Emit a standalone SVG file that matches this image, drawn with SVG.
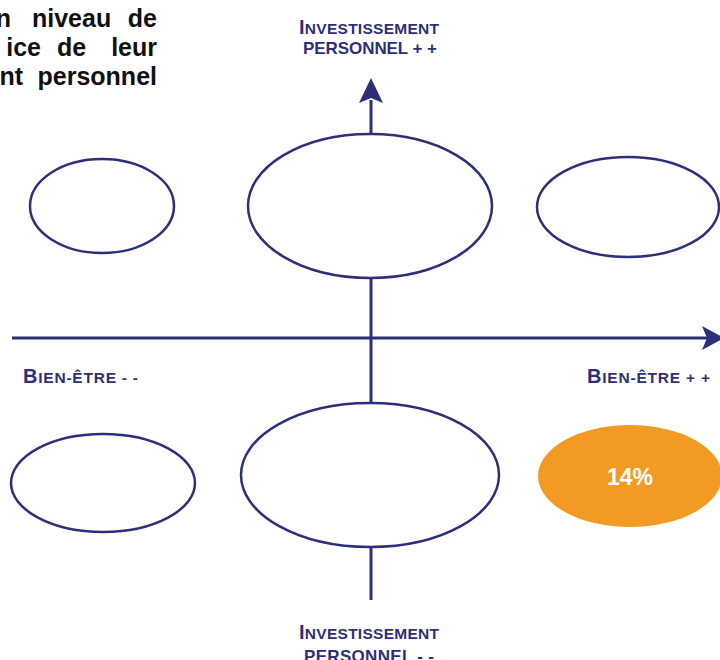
<svg xmlns="http://www.w3.org/2000/svg" width="720" height="660" viewBox="0 0 720 660">
<style>
.ax{stroke:#2d2f78;stroke-width:3;fill:none}
.head{fill:#2d2f78}
.node{fill:#ffffff;stroke:#2d2f78;stroke-width:2.5}
.lbl{font-family:"Liberation Sans",Arial,sans-serif;font-weight:bold;fill:#2d2f78;font-size:15.5px}
.lbl2{font-size:17px}
.big{font-size:20px}
.body{font-family:"Liberation Sans",Arial,sans-serif;font-weight:bold;fill:#111111;font-size:25px}
.pct{font-family:"Liberation Sans",Arial,sans-serif;font-weight:bold;fill:#ffffff;font-size:23px}
</style>
<rect width="720" height="660" fill="#ffffff"/>
<g id="intro">
<text class="body" x="11" y="27" text-anchor="end">n</text>
<text class="body" x="32" y="27">niveau</text>
<text class="body" x="157" y="27" text-anchor="end">de</text>
<text class="body" x="41" y="56" text-anchor="end">ice</text>
<text class="body" x="57" y="56">de</text>
<text class="body" x="157" y="56" text-anchor="end">leur</text>
<text class="body" x="23" y="85" text-anchor="end">nt</text>
<text class="body" x="157" y="85" text-anchor="end">personnel</text>
</g>
<g id="connectors">
<path class="ax" d="M371 100 V600"/>
<path class="head" d="M371 78 L383 103 L371 98 L359 103 Z"/>
<path class="ax" d="M12 338 H712"/>
<path class="head" d="M724 338 L702 326 L707 338 L702 350 Z"/>
</g>
<g id="axis-labels">
<text class="lbl" x="299" y="34" textLength="140" lengthAdjust="spacing"><tspan class="big">I</tspan>NVESTISSEMENT</text>
<text class="lbl lbl2" x="303" y="54" textLength="134" lengthAdjust="spacing">PERSONNEL + +</text>
<text class="lbl" x="299" y="639" textLength="140" lengthAdjust="spacing"><tspan class="big">I</tspan>NVESTISSEMENT</text>
<text class="lbl lbl2" x="304" y="662" textLength="130" lengthAdjust="spacing">PERSONNEL - -</text>
<text class="lbl" x="23" y="383" textLength="115" lengthAdjust="spacing"><tspan class="big">B</tspan>IEN-ÊTRE - -</text>
<text class="lbl" x="587" y="383" textLength="123" lengthAdjust="spacing"><tspan class="big">B</tspan>IEN-ÊTRE + +</text>
</g>
<g id="node-top-left"><ellipse class="node" cx="102" cy="206" rx="72" ry="47"/></g>
<g id="node-top-center"><ellipse class="node" cx="370" cy="206" rx="122" ry="72"/></g>
<g id="node-top-right"><ellipse class="node" cx="628" cy="207" rx="91" ry="50"/></g>
<g id="node-bottom-left"><ellipse class="node" cx="103" cy="483" rx="92" ry="49"/></g>
<g id="node-bottom-center"><ellipse class="node" cx="370" cy="475" rx="129" ry="72"/></g>
<g id="node-bottom-right">
<ellipse cx="630" cy="476" rx="92" ry="51" fill="#f39a24"/>
<text class="pct" x="630" y="485" text-anchor="middle">14%</text>
</g>
</svg>
